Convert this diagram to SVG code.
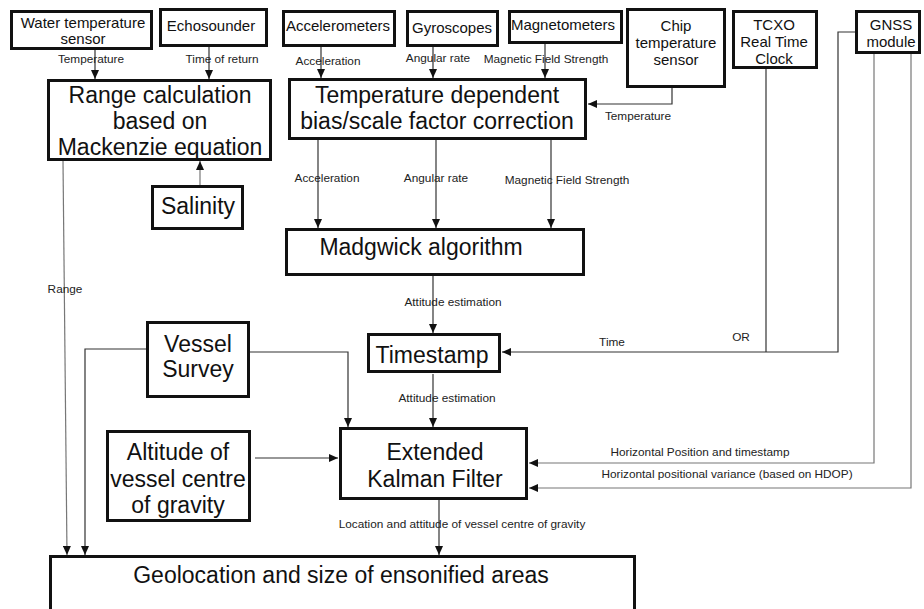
<svg xmlns="http://www.w3.org/2000/svg" width="924" height="609" viewBox="0 0 924 609">
<defs>
<marker id="ah" markerUnits="userSpaceOnUse" markerWidth="9" markerHeight="8" refX="9" refY="4" orient="auto">
<path d="M0,0 L9,4 L0,8 z" fill="#111"/>
</marker>
<style>
.box{fill:#fff;stroke:#111;stroke-width:3}
.big{font-family:"Liberation Sans",Arial,sans-serif;font-size:23px;fill:#111;text-anchor:middle}
.mid{font-family:"Liberation Sans",Arial,sans-serif;font-size:15px;fill:#111;text-anchor:middle}
.lbl{font-family:"Liberation Sans",Arial,sans-serif;font-size:11.8px;fill:#222;text-anchor:middle}
.c{fill:none;stroke:#333;stroke-width:1.2}
.g{fill:none;stroke:#777;stroke-width:1.2}
</style>
</defs>
<rect width="924" height="609" fill="#fff"/>

<g id="connectors">
<path class="c" d="M95 50 V79" marker-end="url(#ah)"/>
<path class="c" d="M209 47 V79" marker-end="url(#ah)"/>
<path class="c" d="M321 47 V78" marker-end="url(#ah)"/>
<path class="c" d="M433 47 V78" marker-end="url(#ah)"/>
<path class="c" d="M545 44 V78" marker-end="url(#ah)"/>
<path class="c" d="M672 88 V104 H588" marker-end="url(#ah)"/>
<path class="g" d="M200 185 V161" marker-end="url(#ah)"/>
<path class="c" d="M318 140 V228" marker-end="url(#ah)"/>
<path class="c" d="M436 140 V228" marker-end="url(#ah)"/>
<path class="c" d="M551 140 V228" marker-end="url(#ah)"/>
<path class="c" d="M433 276 V333" marker-end="url(#ah)"/>
<path class="c" d="M766 69 V352"/>
<path class="c" d="M855 32 H838 V352 H502" marker-end="url(#ah)"/>
<path class="c" d="M433 374 V427" marker-end="url(#ah)"/>
<path class="c" d="M250 352 H348 V427" marker-end="url(#ah)"/>
<path class="c" d="M146 349 H85 V555" marker-end="url(#ah)"/>
<path class="g" d="M63 161 L67 555" marker-end="url(#ah)"/>
<path class="c" d="M255 458 H338" marker-end="url(#ah)"/>
<path class="g" d="M874 54 V463 H529" marker-end="url(#ah)"/>
<path class="g" d="M911 54 V488 H529" marker-end="url(#ah)"/>
<path class="c" d="M439 500 V555" marker-end="url(#ah)"/>
</g>

<g id="labels">
<text class="lbl" x="91" y="63">Temperature</text>
<text class="lbl" x="222" y="63">Time of return</text>
<text class="lbl" x="328" y="65">Acceleration</text>
<text class="lbl" x="438" y="62">Angular rate</text>
<text class="lbl" x="546" y="63">Magnetic Field Strength</text>
<text class="lbl" x="638" y="120">Temperature</text>
<text class="lbl" x="327" y="182">Acceleration</text>
<text class="lbl" x="436" y="182">Angular rate</text>
<text class="lbl" x="567" y="184">Magnetic Field Strength</text>
<text class="lbl" x="65" y="293">Range</text>
<text class="lbl" x="453" y="306">Attitude estimation</text>
<text class="lbl" x="612" y="346">Time</text>
<text class="lbl" x="741" y="341">OR</text>
<text class="lbl" x="447" y="402">Attitude estimation</text>
<text class="lbl" x="700" y="456">Horizontal Position and timestamp</text>
<text class="lbl" x="727" y="478">Horizontal positional variance (based on HDOP)</text>
<text class="lbl" x="462" y="528">Location and attitude of vessel centre of gravity</text>
</g>

<g id="water-temp">
<rect class="box" x="11.5" y="11.5" width="140" height="37"/>
<text class="mid" x="83" y="28">Water temperature</text>
<text class="mid" x="83" y="44">sensor</text>
</g>
<g id="echosounder">
<rect class="box" x="160.5" y="9.5" width="106" height="36"/>
<text class="mid" x="211" y="31">Echosounder</text>
</g>
<g id="accelerometers">
<rect class="box" x="283.5" y="11.5" width="111" height="34"/>
<text class="mid" x="338" y="31">Accelerometers</text>
</g>
<g id="gyroscopes">
<rect class="box" x="407.5" y="11.5" width="90" height="34"/>
<text class="mid" x="452" y="33">Gyroscopes</text>
</g>
<g id="magnetometers">
<rect class="box" x="509.5" y="11.5" width="112" height="31"/>
<text class="mid" x="563" y="30">Magnetometers</text>
</g>
<g id="chip-temp">
<rect class="box" x="627.5" y="9.5" width="97" height="77"/>
<text class="mid" x="676" y="31">Chip</text>
<text class="mid" x="676" y="48">temperature</text>
<text class="mid" x="676" y="65">sensor</text>
</g>
<g id="tcxo">
<rect class="box" x="733.5" y="11.5" width="83" height="56"/>
<text class="mid" x="774" y="30">TCXO</text>
<text class="mid" x="774" y="47">Real Time</text>
<text class="mid" x="774" y="64">Clock</text>
</g>
<g id="gnss">
<rect class="box" x="856.5" y="11.5" width="63" height="41"/>
<text class="mid" x="891" y="30">GNSS</text>
<text class="mid" x="891" y="47">module</text>
</g>
<g id="range-calc">
<rect class="box" x="48.5" y="80.5" width="222" height="79"/>
<text class="big" x="160" y="103">Range calculation</text>
<text class="big" x="160" y="129">based on</text>
<text class="big" x="160" y="155">Mackenzie equation</text>
</g>
<g id="temp-correction">
<rect class="box" x="289.5" y="79.5" width="296" height="59"/>
<text class="big" x="437" y="103">Temperature dependent</text>
<text class="big" x="437" y="129">bias/scale factor correction</text>
</g>
<g id="salinity">
<rect class="box" x="152.5" y="186.5" width="90" height="42"/>
<text class="big" x="198" y="214">Salinity</text>
</g>
<g id="madgwick">
<rect class="box" x="286.5" y="229.5" width="297" height="45"/>
<text class="big" x="421" y="255">Madgwick algorithm</text>
</g>
<g id="timestamp">
<rect class="box" x="368.5" y="334.5" width="131" height="37"/>
<text class="big" x="432" y="363">Timestamp</text>
</g>
<g id="vessel-survey">
<rect class="box" x="147.5" y="322.5" width="101" height="74"/>
<text class="big" x="198" y="352">Vessel</text>
<text class="big" x="198" y="377">Survey</text>
</g>
<g id="altitude">
<rect class="box" x="107.5" y="431.5" width="142" height="89"/>
<text class="big" x="178" y="460">Altitude of</text>
<text class="big" x="178" y="487">vessel centre</text>
<text class="big" x="178" y="513">of gravity</text>
</g>
<g id="ekf">
<rect class="box" x="340.5" y="428.5" width="186" height="70"/>
<text class="big" x="435" y="460">Extended</text>
<text class="big" x="435" y="487">Kalman Filter</text>
</g>
<g id="geolocation">
<rect class="box" x="50.5" y="556.5" width="584" height="70"/>
<text class="big" x="341" y="583">Geolocation and size of ensonified areas</text>
</g>
</svg>
